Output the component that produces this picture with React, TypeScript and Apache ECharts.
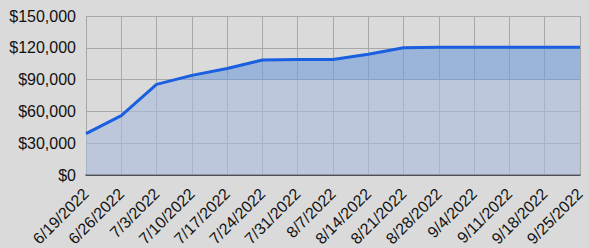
import React, { useEffect, useRef } from "react";
import * as echarts from "echarts";

const categories = [
  "6/19/2022", "6/26/2022", "7/3/2022", "7/10/2022", "7/17/2022",
  "7/24/2022", "7/31/2022", "8/7/2022", "8/14/2022", "8/21/2022",
  "8/28/2022", "9/4/2022", "9/11/2022", "9/18/2022", "9/25/2022",
];
const values = [
  39000, 56000, 85500, 94000, 100500,
  108500, 109000, 109000, 114000, 120000,
  120500, 120500, 120500, 120500, 120500,
];
const threshold = 90000;
const yTicks = [0, 30000, 60000, 90000, 120000, 150000];

export default function App() {
  const ref = useRef<HTMLDivElement>(null);
  useEffect(() => {
    if (!ref.current) return;
    const chart = echarts.init(ref.current, null, { renderer: "svg" });
    const font = "'Liberation Sans', Arial, sans-serif";
    const yMin = yTicks[0];
    const yMax = yTicks[yTicks.length - 1];
    const lowColor = "rgba(168,186,221,0.6)";
    const highColor = "rgba(113,155,218,0.6)";
    chart.setOption({
      animation: false,
      backgroundColor: "#dadada",
      grid: { left: 86, right: 9, top: 16, bottom: 73, containLabel: false, outerBoundsMode: "none" },
      visualMap: {
        show: false,
        type: "piecewise",
        dimension: 1,
        seriesIndex: 0,
        pieces: [
          { gte: yMin, lte: threshold, color: lowColor },
          { gt: threshold, lte: yMax, color: highColor },
        ],
        outOfRange: { color: highColor },
      },
      xAxis: {
        type: "category",
        data: categories,
        boundaryGap: false,
        axisLine: { show: true, lineStyle: { color: "#333333", width: 1.5 } },
        axisTick: { show: false },
        axisLabel: {
          rotate: 45,
          interval: 0,
          color: "#111111",
          fontSize: 16,
          fontFamily: font,
          margin: 16,
        },
        splitLine: { show: true, lineStyle: { color: "#a8a8a8", width: 1 } },
      },
      yAxis: {
        type: "value",
        min: yMin,
        max: yMax,
        interval: yTicks[1] - yTicks[0],
        axisLine: { show: false },
        axisTick: { show: false },
        axisLabel: {
          color: "#111111",
          fontSize: 16,
          fontFamily: font,
          margin: 10,
          formatter: (v: number) => "$" + v.toLocaleString("en-US"),
        },
        splitLine: { show: true, lineStyle: { color: "#a8a8a8", width: 1 } },
      },
      series: [
        {
          type: "line",
          data: values,
          symbol: "none",
          lineStyle: { width: 0 },
          areaStyle: { opacity: 1 },
          z: 1,
        },
        {
          type: "line",
          data: values,
          symbol: "none",
          lineStyle: { width: 3, color: "#1a5fe0" },
          itemStyle: { color: "#1a5fe0" },
          z: 3,
        },
      ],
    });
    return () => chart.dispose();
  }, []);
  return <div ref={ref} style={{ width: 589, height: 248, position: "absolute", left: 0, top: 0 }} />;
}
